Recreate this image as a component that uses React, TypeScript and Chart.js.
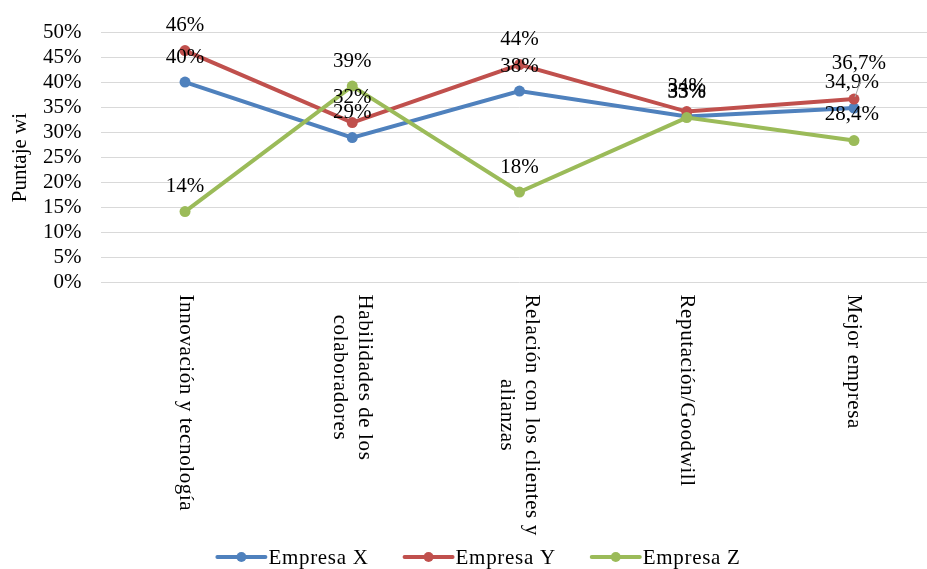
import React, { useEffect, useRef } from "react";
import { Chart, registerables } from "chart.js";

Chart.register(...registerables);

const categories = [
  "Innovación y tecnología",
  "Habilidades de los\ncolaboradores",
  "Relación con los clientes y\nalianzas",
  "Reputación/Goodwill",
  "Mejor empresa",
];
const seriesNames = ["Empresa X", "Empresa Y", "Empresa Z"];
const empresaX = [40.1, 29.0, 38.3, 33.2, 34.9];
const empresaY = [46.4, 32.0, 43.6, 34.2, 36.7];
const empresaZ = [14.2, 39.3, 18.1, 33.0, 28.4];
const labelsX = ["40%", "29%", "38%", "33%", "34,9%"];
const labelsY = ["46%", "32%", "44%", "34%", "36,7%"];
const labelsZ = ["14%", "39%", "18%", "33%", "28,4%"];
const yAxisTitle = "Puntaje wi";
const yTicks = [0, 5, 10, 15, 20, 25, 30, 35, 40, 45, 50];

const colors = ["#4F81BD", "#C0504D", "#9BBB59"];
const FONT = "'Liberation Serif', 'Times New Roman', serif";
const FS = 21;

const W = 958;
const H = 569;

const overlayPlugin = {
  id: "overlay",
  afterDatasetsDraw(chart: any) {
    const ctx = chart.ctx;
    const allLabels = [labelsX, labelsY, labelsZ];
    ctx.save();
    ctx.font = `${FS}px ${FONT}`;
    ctx.fillStyle = "#000";
    ctx.textAlign = "center";
    ctx.textBaseline = "middle";
    chart.data.datasets.forEach((ds: any, di: number) => {
      const meta = chart.getDatasetMeta(di);
      meta.data.forEach((pt: any, i: number) => {
        let dx = 0;
        let dy = -25;
        const last = i === meta.data.length - 1;
        if (last) {
          if (di === 1) {
            dx = 5;
            dy = -36;
          } else {
            dx = -2;
            dy = -26;
          }
        }
        if (last && di === 1) {
          ctx.save();
          ctx.strokeStyle = "#A6A6A6";
          ctx.lineWidth = 1;
          ctx.beginPath();
          ctx.moveTo(pt.x + 1, pt.y - 2);
          ctx.lineTo(pt.x + 7, pt.y - 19);
          ctx.stroke();
          ctx.restore();
        }
        ctx.fillText(allLabels[di][i], pt.x + dx, pt.y + dy);
      });
    });
    ctx.restore();
  },
  afterDraw(chart: any) {
    const ctx = chart.ctx;
    const xs = chart.scales.x;
    const area = chart.chartArea;
    ctx.save();
    ctx.font = `${FS}px ${FONT}`;
    ctx.fillStyle = "#000";
    (ctx as any).letterSpacing = "0.6px";
    const lh = 25;
    categories.forEach((c, i) => {
      const lines = c.split("\n");
      const x = xs.getPixelForValue(i);
      const top = area.bottom + 12;
      const maxW = Math.max(...lines.map((l) => ctx.measureText(l).width));
      ctx.save();
      ctx.translate(x, top);
      ctx.rotate(Math.PI / 2);
      ctx.textAlign = "center";
      ctx.textBaseline = "middle";
      lines.forEach((l, li) => {
        const ly = (li - (lines.length - 1) / 2) * lh;
        ctx.fillText(l, maxW / 2, ly);
      });
      ctx.restore();
    });
    (ctx as any).letterSpacing = "0px";
    ctx.save();
    ctx.translate(20, (area.top + area.bottom) / 2);
    ctx.rotate(-Math.PI / 2);
    ctx.textAlign = "center";
    ctx.textBaseline = "middle";
    ctx.fillText(yAxisTitle, 0, 0);
    ctx.restore();
    (ctx as any).letterSpacing = "0.7px";
    const lineLen = 48;
    const gapText = 3;
    const itemGap = 36;
    const widths = seriesNames.map((n) => lineLen + gapText + ctx.measureText(n).width);
    const total = widths.reduce((a, b) => a + b, 0) + itemGap * (seriesNames.length - 1);
    let lx = W / 2 - total / 2;
    const ly = 557;
    seriesNames.forEach((n, i) => {
      ctx.strokeStyle = colors[i];
      ctx.lineWidth = 4;
      ctx.lineCap = "round";
      ctx.beginPath();
      ctx.moveTo(lx, ly);
      ctx.lineTo(lx + lineLen, ly);
      ctx.stroke();
      ctx.fillStyle = colors[i];
      ctx.beginPath();
      ctx.arc(lx + lineLen / 2, ly, 5, 0, Math.PI * 2);
      ctx.fill();
      ctx.fillStyle = "#000";
      ctx.textAlign = "left";
      ctx.textBaseline = "middle";
      ctx.fillText(n, lx + lineLen + gapText, ly + 1);
      lx += widths[i] + itemGap;
    });
    ctx.restore();
  },
};

export default function App() {
  const ref = useRef<HTMLCanvasElement>(null);
  useEffect(() => {
    if (!ref.current) return;
    const seriesData = [empresaX, empresaY, empresaZ];
    const chart = new Chart(ref.current, {
      type: "line",
      data: {
        labels: categories,
        datasets: seriesNames.map((n, i) => ({
          label: n,
          data: seriesData[i],
          borderColor: colors[i],
          backgroundColor: colors[i],
          borderWidth: 4,
          pointRadius: 5.5,
          pointBorderWidth: 0,
          pointBackgroundColor: colors[i],
          tension: 0,
          order: 3 - i,
        })),
      },
      options: {
        responsive: false,
        animation: false,
        layout: { padding: { top: 29, right: 20.4, left: 0, bottom: 0 } },
        plugins: {
          legend: { display: false },
          tooltip: { enabled: false },
        },
        scales: {
          x: {
            offset: true,
            grid: { display: false },
            border: { display: false },
            ticks: { display: false },
            afterFit: (s: any) => {
              s.height = H - 282.5;
            },
          },
          y: {
            min: yTicks[0],
            max: yTicks[yTicks.length - 1],
            grid: { color: "#D9D9D9", lineWidth: 1, drawTicks: false },
            border: { display: false },
            afterBuildTicks: (s: any) => {
              s.ticks = yTicks.map((v) => ({ value: v }));
            },
            ticks: {
              autoSkip: false,
              padding: 20,
              color: "#000",
              font: { family: FONT, size: FS },
              callback: (v: any) => `${v}%`,
            },
            afterFit: (s: any) => {
              s.width = 101.4;
            },
          },
        },
      },
      plugins: [overlayPlugin],
    });
    return () => chart.destroy();
  }, []);
  return (
    <div
      style={{
        position: "absolute",
        left: 0,
        top: 0,
        width: 927,
        height: 569,
        overflow: "hidden",
        background: "#fff",
      }}
    >
      <canvas ref={ref} width={W} height={H} style={{ width: W, height: H, display: "block" }} />
    </div>
  );
}
